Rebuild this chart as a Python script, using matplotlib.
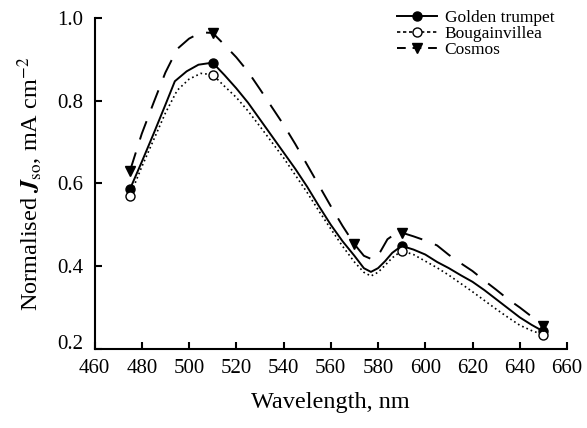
import matplotlib
matplotlib.use('Agg')
import matplotlib.pyplot as plt
from matplotlib.lines import Line2D
from matplotlib.transforms import ScaledTranslation

plt.rcParams['font.family'] = ['Liberation Serif', 'DejaVu Serif']
plt.rcParams['mathtext.fontset'] = 'stix'

# measured points (markers)
golden_wl = [475, 510, 590, 650]
golden_pts = [0.586, 0.892, 0.449, 0.242]
bougain_wl = [475, 510, 590, 650]
bougain_pts = [0.570, 0.863, 0.437, 0.234]
cosmos_wl = [475, 510, 570, 590, 650]
cosmos_pts = [0.630, 0.964, 0.453, 0.481, 0.255]

# traced curves
golden_curve_wl = [475, 480, 485, 490, 494, 499, 504, 510, 515, 520, 525, 530, 535, 540,
                   545, 550, 555, 560, 565, 570, 574, 577, 580, 583, 586, 590, 595, 600,
                   605, 610, 615, 620, 625, 630, 635, 640, 645, 650]
golden_curve = [0.586, 0.652, 0.720, 0.790, 0.847, 0.871, 0.887, 0.892, 0.862, 0.830,
                0.795, 0.755, 0.715, 0.675, 0.635, 0.592, 0.545, 0.500, 0.460, 0.425,
                0.395, 0.386, 0.395, 0.412, 0.432, 0.449, 0.440, 0.428, 0.410, 0.395,
                0.378, 0.362, 0.342, 0.320, 0.298, 0.276, 0.258, 0.242]
bougain_curve_wl = [475, 480, 485, 490, 495, 500, 505, 510, 515, 520, 525, 530, 535, 540,
                    545, 550, 555, 560, 565, 570, 574, 577, 580, 583, 586, 590, 595, 600,
                    605, 610, 615, 620, 625, 630, 635, 640, 645, 650]
bougain_curve = [0.570, 0.640, 0.705, 0.770, 0.825, 0.852, 0.866, 0.863, 0.835, 0.808,
                 0.775, 0.738, 0.700, 0.662, 0.620, 0.578, 0.533, 0.490, 0.448, 0.410,
                 0.385, 0.376, 0.385, 0.402, 0.420, 0.437, 0.428, 0.412, 0.396, 0.378,
                 0.358, 0.338, 0.317, 0.296, 0.276, 0.257, 0.244, 0.234]
cosmos_curve_wl = [475, 480, 485, 490, 495, 500, 505, 510, 515, 520, 525, 530, 535, 540,
                   545, 550, 555, 560, 565, 570, 574, 578, 581, 584, 587, 590, 595, 600,
                   605, 610, 615, 620, 625, 630, 635, 640, 645, 650]
cosmos_curve = [0.630, 0.720, 0.795, 0.868, 0.925, 0.950, 0.965, 0.964, 0.935, 0.905,
                0.870, 0.828, 0.785, 0.742, 0.695, 0.645, 0.595, 0.545, 0.497, 0.453,
                0.425, 0.415, 0.435, 0.465, 0.477, 0.481, 0.472, 0.462, 0.450, 0.427,
                0.407, 0.388, 0.365, 0.343, 0.320, 0.300, 0.278, 0.255]

fig = plt.figure(figsize=(5.87, 4.28), dpi=100)
ax = fig.add_axes([0.161, 0.185, 0.805, 0.773])

ax.plot(golden_curve_wl, golden_curve, color='black', lw=1.4, ls='-')
ax.plot(bougain_curve_wl, bougain_curve, color='black', lw=1.2, ls=(0, (1, 1.8)))
ax.plot(cosmos_curve_wl, cosmos_curve, color='black', lw=1.4, ls=(0, (10, 7)))

ax.plot(golden_wl, golden_pts, 'o', color='black', ms=6.5, ls='none')
ax.plot(bougain_wl, bougain_pts, 'o', mfc='white', mec='black', mew=1.0, ms=6.5, ls='none')
ax.plot(cosmos_wl, cosmos_pts, 'v', color='black', ms=6.5, ls='none')

ax.set_xlim(460, 660)
ax.set_ylim(0.2, 1.0)
ax.set_xticks(range(460, 661, 20))
ax.set_yticks([0.2, 0.4, 0.6, 0.8, 1.0])
ax.set_yticklabels(['0.2', '0.4', '0.6', '0.8', '1.0'])
ax.spines['top'].set_visible(False)
ax.spines['right'].set_visible(False)
for s in ['left', 'bottom']:
    ax.spines[s].set_linewidth(1.5)
ax.tick_params(direction='in', length=5, width=1.5, labelsize=15)
ax.tick_params(axis='x', pad=7.5)
ax.tick_params(axis='y', pad=8)

# lift the bottom y label a little so it clears the x labels
lab = ax.get_yticklabels()[0]
lab.set_transform(lab.get_transform() + ScaledTranslation(0, 5 / 72, fig.dpi_scale_trans))

ax.set_xlabel('Wavelength, nm', fontsize=17.5, labelpad=10)
ax.set_ylabel(r'Normalised $\mathbfit{J}_{\mathrm{so}}$, mA cm$^{-2}$', fontsize=17.5, labelpad=9)

handles = [
    Line2D([], [], color='black', lw=1.4, ls='-', marker='o', ms=6.5),
    Line2D([], [], color='black', lw=1.2, ls=(0, (2, 1.6)), marker='o', mfc='white', mec='black', ms=6.5),
    Line2D([], [], color='black', lw=1.4, ls=(0, (4.5, 3.5)), marker='v', ms=6.5),
]
ax.legend(handles, ['Golden trumpet', 'Bougainvillea', 'Cosmos'], loc='upper left',
          bbox_to_anchor=(397 / 587, 1 - 10 / 428), bbox_transform=fig.transFigure,
          frameon=False, fontsize=12.5, handlelength=2.3, handletextpad=0.45,
          labelspacing=0.0, borderaxespad=0, borderpad=0)

fig.savefig('out.png', dpi=100)
